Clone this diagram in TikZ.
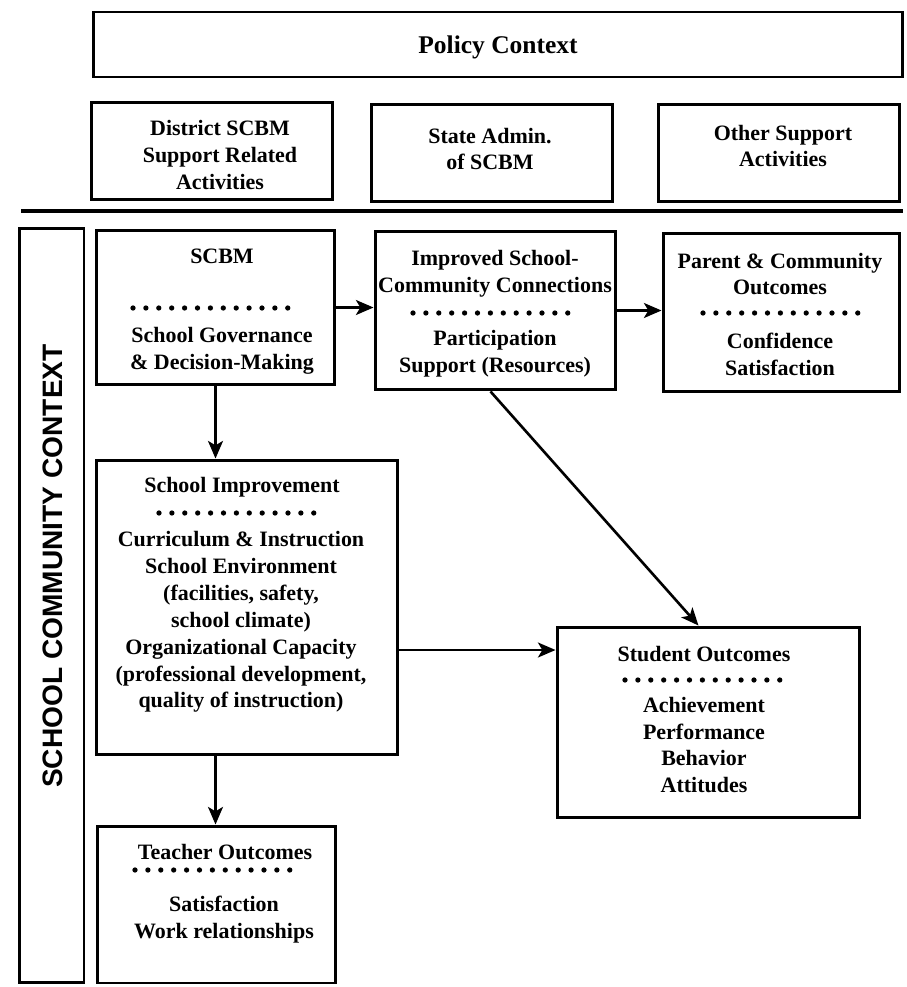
\documentclass[tikz,border=0pt]{standalone}
\usepackage{fontspec}
\setmainfont{Liberation Serif}
\newfontfamily\sidefont{Liberation Sans}
\usetikzlibrary{arrows.meta}

\tikzset{
  box/.style={draw, line width=1.7pt, inner sep=0pt},
  lbl/.style={align=center, font=\bfseries\fontsize{12.5}{15.3}\selectfont},
  link/.style={line width=1.5pt, -{Stealth[length=10pt,width=8.5pt,inset=2.5pt]}},
  dotsep/.style={line width=3pt, line cap=round, dash pattern=on 0pt off 0.258cm}
}

\begin{document}
\begin{tikzpicture}[x=0.02cm, y=-0.02cm]
	\useasboundingbox (0,0) rectangle (906,987);
	% policy level
	\node[box, minimum width=16.2cm, minimum height=1.3cm] (policy) at (498,44.5) {};
	\node[lbl, font=\bfseries\fontsize{14.5}{17}\selectfont] (policy-t) at (498,47) {Policy Context};
	\node[box, minimum width=4.84cm, minimum height=1.94cm] (district) at (212,151) {};
	\node[lbl] (district-t) at (220,155) {District SCBM\\Support Related\\Activities};
	\node[box, minimum width=4.84cm, minimum height=1.94cm] (state) at (492,153) {};
	\node[lbl] (state-t) at (490,149) {State Admin.\\of SCBM};
	\node[box, minimum width=4.84cm, minimum height=1.94cm] (other) at (779,153) {};
	\node[lbl] (other-t) at (783,146) {Other Support\\Activities};
	\draw[line width=1.8pt] (21,211) -- (903,211);
	% school community context
	\node[box, minimum width=1.3cm, minimum height=15.1cm] (scc) at (51.5,605.5) {};
	\node[rotate=90, font=\sidefont\bfseries\fontsize{16}{18}\selectfont] (scc-t) at (53,566) {SCHOOL COMMUNITY CONTEXT};
	% SCBM
	\node[box, minimum width=4.78cm, minimum height=3.1cm] (scbm) at (215.5,307.5) {};
	\node[lbl] (scbm-t) at (222,256) {SCBM};
	\draw[dotsep] (133,308) -- (288,308);
	\node[lbl] (scbm-b) at (222,351) {School Governance\\\& Decision-Making};
	% connections
	\node[box, minimum width=4.82cm, minimum height=3.18cm] (improved) at (495.5,310.5) {};
	\node[lbl] (improved-t) at (495,274) {Improved School-\\Community Connections};
	\draw[dotsep] (413,313) -- (568,313);
	\node[lbl] (improved-b) at (495,354) {Participation\\Support (Resources)};
	% parent and community
	\node[box, minimum width=4.74cm, minimum height=3.18cm] (parent) at (781.5,312.5) {};
	\node[lbl] (parent-t) at (780,274) {Parent \& Community\\Outcomes};
	\draw[dotsep] (703,313) -- (858,313);
	\node[lbl] (parent-b) at (780,354) {Confidence\\Satisfaction};
	% school improvement
	\node[box, minimum width=6.04cm, minimum height=5.9cm] (schimp) at (247,607.5) {};
	\node[lbl] (schimp-t) at (242,487) {School Improvement};
	\draw[dotsep] (159,513) -- (314,513);
	\node[lbl] (schimp-b) at (241,622) {Curriculum \& Instruction\\School Environment\\(facilities, safety,\\school climate)\\Organizational Capacity\\(professional development,\\quality of instruction)};
	% teacher
	\node[box, minimum width=4.78cm, minimum height=3.14cm] (teacher) at (216.5,904.5) {};
	\node[lbl] (teacher-t) at (225,852) {Teacher Outcomes};
	\draw[dotsep] (135,870) -- (290,870);
	\node[lbl] (teacher-b) at (224,920) {Satisfaction\\Work relationships};
	% student
	\node[box, minimum width=6.06cm, minimum height=3.82cm] (student) at (708.5,722.5) {};
	\node[lbl] (student-t) at (704,654) {Student Outcomes};
	\draw[dotsep] (625,680) -- (780,680);
	\node[lbl] (student-b) at (704,745) {Achievement\\Performance\\Behavior\\Attitudes};
	% arrows
	\coordinate (level) at (480,650);
	\draw[link] (scbm.east) -- (scbm.east -| improved.west);
	\draw[link] (improved.east) -- (improved.east -| parent.west);
	\draw[link] (scbm.south) -- (scbm.south |- schimp.north);
	\draw[link] (scbm.south |- schimp.south) -- (scbm.south |- teacher.north);
	\draw[link] (schimp.east |- level) -- (student.west |- level);
	\draw[link] ([xshift=-0.1cm]improved.south) -- ([xshift=-0.2cm]student.north);
\end{tikzpicture}
\end{document}
